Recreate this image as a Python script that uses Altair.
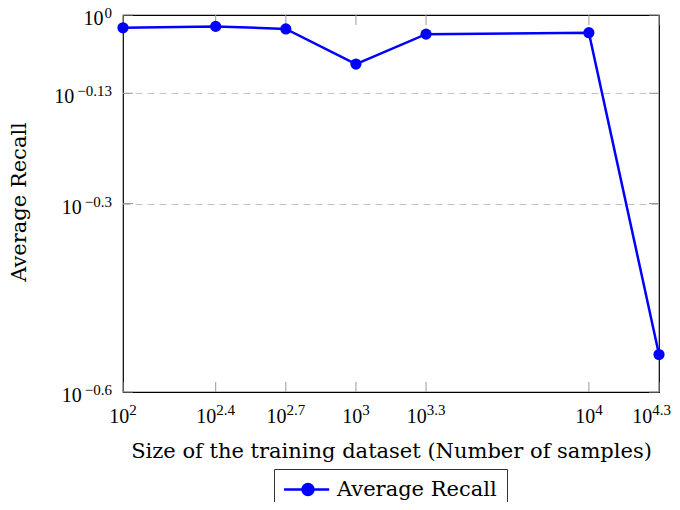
import math
import altair as alt
import pandas as pd

# ---- data ----
sizes = [100, 250, 500, 1000, 2000, 10000, 20000]
recall = [0.954, 0.959, 0.950, 0.835, 0.932, 0.937, 0.287]
series_name = "Average Recall"

x_tick_values = [100, 250, 500, 1000, 2000, 10000, 20000]
x_tick_exps = ["2", "2.4", "2.7", "3", "3.3", "4", "4.3"]
y_tick_values = [1.0, 0.75, 0.5, 0.25]
y_tick_exps = ["0", "\u22120.13", "\u22120.3", "\u22120.6"]
y_grid_values = [0.75, 0.5]

x_title = "Size of the training dataset (Number of samples)"
y_title = "Average Recall"

# ---- layout ----
W, H = 536, 377
PAD = {"left": 115, "top": 7, "right": 13, "bottom": 110}
X_DOMAIN = [100, 20000]
Y_DOMAIN = [0.25, 1.0]
PPD = W / math.log10(X_DOMAIN[1] / X_DOMAIN[0])  # pixels per decade on x

NUM_FONT = "Liberation Serif"
TXT_FONT = "DejaVu Serif"
BLUE = "#0000ff"
TICK = "#999999"

xs = alt.Scale(type="log", domain=X_DOMAIN, nice=False)
ys = alt.Scale(type="log", domain=Y_DOMAIN, nice=False)

X_AXIS = alt.Axis(
    title=x_title, labels=False, ticks=False, domain=False, grid=False,
    titleFont=TXT_FONT, titleFontSize=21, titleFontWeight="normal",
    titleColor="black", titleX=W / 2, titleY=65,
    titleBaseline="alphabetic", titleAlign="center")
Y_AXIS = alt.Axis(
    title=y_title, labels=False, ticks=False, domain=False, grid=True,
    values=y_grid_values, gridDash=[7, 5], gridColor="#c4c4c4", gridWidth=1,
    titleFont=TXT_FONT, titleFontSize=21, titleFontWeight="normal",
    titleColor="black", titleAngle=270, titleX=-98, titleY=H / 2 - 2,
    titleBaseline="alphabetic", titleAlign="center")

df = pd.DataFrame({"x": sizes, "y": recall, "s": [series_name] * len(sizes)})
xt = pd.DataFrame({"v": x_tick_values, "e": x_tick_exps})
yt = pd.DataFrame({"v": y_tick_values, "e": y_tick_exps})

legend_path = "M-1.9,0L6.3,0M1.45,0A1,1,0,1,1,3.45,0A1,1,0,1,1,1.45,0Z"

base = alt.Chart(df)
line = base.mark_line(strokeWidth=2.5).encode(
    x=alt.X("x:Q", scale=xs, axis=X_AXIS),
    y=alt.Y("y:Q", scale=ys, axis=Y_AXIS),
    color=alt.Color("s:N", scale=alt.Scale(range=[BLUE]), legend=alt.Legend(
        title=None, orient="none", legendX=151, legendY=454,
        strokeColor="#333333", fillColor="white", padding=10, cornerRadius=0,
        symbolType=legend_path, symbolSize=121, symbolStrokeWidth=2.5,
        symbolStrokeColor=BLUE, symbolFillColor=BLUE, symbolOpacity=1,
        labelFont=TXT_FONT, labelFontSize=21, labelColor="black", labelOffset=32)),
)
points = base.mark_circle(size=125, opacity=1, color=BLUE).encode(
    x=alt.X("x:Q", scale=xs, axis=X_AXIS),
    y=alt.Y("y:Q", scale=ys, axis=Y_AXIS),
)

# inward tick marks on all four sides
xtick_b = alt.Chart(xt).mark_rule(color=TICK, strokeWidth=1).encode(
    x=alt.X("v:Q", scale=xs, axis=X_AXIS), y=alt.value(H - 10), y2=alt.value(H))
xtick_t = alt.Chart(xt).mark_rule(color=TICK, strokeWidth=1).encode(
    x=alt.X("v:Q", scale=xs, axis=X_AXIS), y=alt.value(0), y2=alt.value(10))
ytick_l = alt.Chart(yt).mark_rule(color=TICK, strokeWidth=1).encode(
    y=alt.Y("v:Q", scale=ys, axis=Y_AXIS), x=alt.value(0), x2=alt.value(10))
ytick_r = alt.Chart(yt).mark_rule(color=TICK, strokeWidth=1).encode(
    y=alt.Y("v:Q", scale=ys, axis=Y_AXIS), x=alt.value(W - 10), x2=alt.value(W))

# tick labels 10^e drawn as base + superscript (approximate text widths)
we_expr = ("7.5*length(datum.e) - (indexof(datum.e, '.') >= 0 ? 3.75 : 0)"
           " + (indexof(datum.e, '\u2212') >= 0 ? 3 : 0)")
right_limit = W + PAD["right"] - 1
xl = alt.Chart(xt).transform_calculate(we=we_expr).transform_calculate(
    tpx=f"{PPD} * log(datum.v / {X_DOMAIN[0]}) / LN10"
).transform_calculate(
    off=f"min((20 - datum.we) / 2, {right_limit} - datum.we - datum.tpx)"
).transform_calculate(
    xb=f"datum.v * pow(10, datum.off / {PPD})")
xl_base = xl.mark_text(text="10", font=NUM_FONT, fontSize=20, align="right",
                       baseline="alphabetic", color="black").encode(
    x=alt.X("xb:Q", scale=xs, axis=X_AXIS), y=alt.value(H + 31))
xl_exp = xl.mark_text(font=NUM_FONT, fontSize=15, align="left",
                      baseline="alphabetic", color="black").encode(
    x=alt.X("xb:Q", scale=xs, axis=X_AXIS), y=alt.value(H + 23), text="e:N")

yl = alt.Chart(yt).transform_calculate(we=we_expr).transform_calculate(
    xe=f"{X_DOMAIN[0]} * pow(10, -11 / {PPD})",
    xb=f"{X_DOMAIN[0]} * pow(10, (-12 - datum.we) / {PPD})")
yl_base = yl.mark_text(text="10", font=NUM_FONT, fontSize=20, align="right",
                       baseline="alphabetic", dy=10, color="black").encode(
    x=alt.X("xb:Q", scale=xs, axis=X_AXIS), y=alt.Y("v:Q", scale=ys, axis=Y_AXIS))
yl_exp = yl.mark_text(font=NUM_FONT, fontSize=15, align="right",
                      baseline="alphabetic", dy=3, color="black").encode(
    x=alt.X("xe:Q", scale=xs, axis=X_AXIS), y=alt.Y("v:Q", scale=ys, axis=Y_AXIS),
    text="e:N")

chart = alt.layer(
    line, xtick_b, xtick_t, ytick_l, ytick_r, points,
    xl_base, xl_exp, yl_base, yl_exp,
).properties(
    width=W, height=H,
    autosize=alt.AutoSizeParams(type="none"),
    padding=PAD,
).configure_view(stroke="black", strokeWidth=1.2)

chart.save("out.html", embed_options={"renderer": "svg", "actions": False})
